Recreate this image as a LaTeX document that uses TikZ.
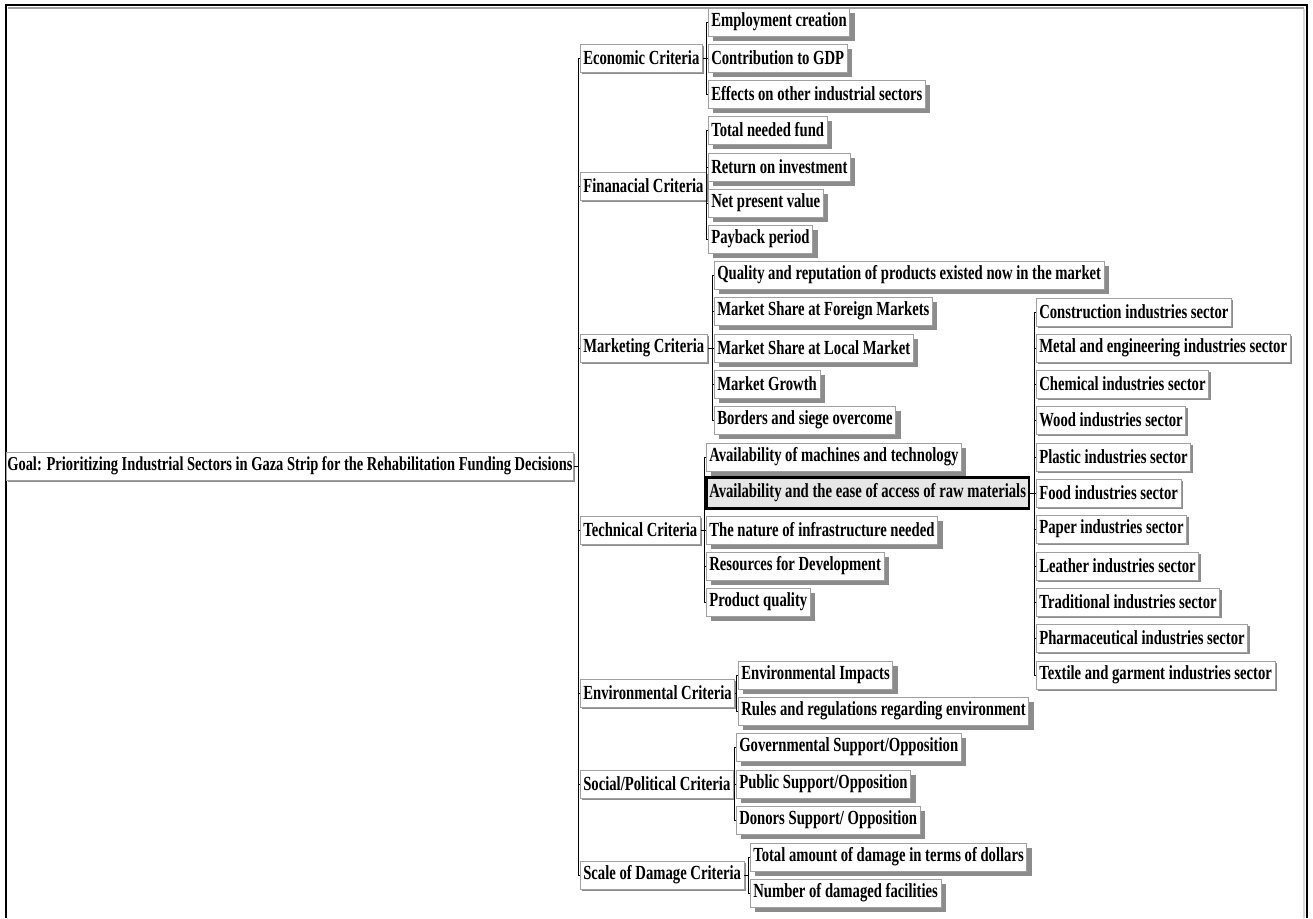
\documentclass[tikz,border=0pt]{standalone}
\usepackage{fontspec}
\usepackage{tikz}
\usetikzlibrary{shadows}
\newfontfamily\treefont[FakeStretch=0.7335]{Liberation Serif}
\definecolor{frame}{HTML}{000000}
\definecolor{edge}{HTML}{A0A0A0}
\definecolor{shade}{HTML}{8C8C8C}
\definecolor{selfill}{HTML}{E6E6E6}
\tikzset{
  box/.style={draw=edge, line width=0.6pt, fill=white, anchor=west, minimum height=28pt,
    inner xsep=3pt, inner ysep=0pt, font=\treefont\bfseries\fontsize{20}{20}\selectfont},
  goalbox/.style={box, inner xsep=1pt, font=\treefont\bfseries\fontsize{19.7}{20}\selectfont,
    drop shadow={shadow xshift=1.5pt, shadow yshift=-2pt, fill=shade, opacity=1}},
  crit/.style={box, drop shadow={shadow xshift=2pt, shadow yshift=-2pt, fill=shade, opacity=1}},
  sub/.style={box, drop shadow={shadow xshift=5pt, shadow yshift=-5pt, fill=shade, opacity=1}},
  alt/.style={box, drop shadow={shadow xshift=2pt, shadow yshift=-2pt, fill=shade, opacity=1}},
  sel/.style={box, draw=black, line width=2.6pt, fill=selfill, minimum height=31pt},
  link/.style={draw=black, line width=0.9pt},
}

\begin{document}
\begin{tikzpicture}[x=1pt,y=-1pt]
  \useasboundingbox (0,0) rectangle (1313,918);
  % window frame
  \draw[edge, line width=2pt] (8,8) -- (1304,8);
  \draw[gray!30, line width=1.5pt] (1304,9) -- (1304,918);
  \draw[frame, line width=2.2pt] (6,918) -- (6,5) -- (1307,5) -- (1307,918);

  % goal
  \node[goalbox] (goal) at (6,466) {Goal: Prioritizing Industrial Sectors in Gaza Strip for the Rehabilitation Funding Decisions};

  % criteria
  \node[crit] (eco) at (580,58) {Economic Criteria};
  \node[crit] (fin) at (580,186) {Finanacial Criteria};
  \node[crit] (mkt) at (580,348) {Marketing Criteria};
  \node[crit] (tec) at (580,530) {Technical Criteria};
  \node[crit] (env) at (580,693) {Environmental Criteria};
  \node[crit] (soc) at (580,784) {Social/Political Criteria};
  \node[crit] (dmg) at (580,875) {Scale of Damage Criteria};

  % sub-criteria
  \node[sub] (eco1) at (708,22) {Employment creation};
  \node[sub] (eco2) at (708,58) {Contribution to GDP};
  \node[sub] (eco3) at (708,94) {Effects on other industrial sectors};

  \node[sub] (fin1) at (708,130) {Total needed fund};
  \node[sub] (fin2) at (708,167) {Return on investment};
  \node[sub] (fin3) at (708,203) {Net present value};
  \node[sub] (fin4) at (708,239) {Payback period};

  \node[sub] (mkt1) at (714,275) {Quality and reputation of products existed now in the market};
  \node[sub] (mkt2) at (714,311) {Market Share at Foreign Markets};
  \node[sub] (mkt3) at (714,348) {Market Share at Local Market};
  \node[sub] (mkt4) at (714,384) {Market Growth};
  \node[sub] (mkt5) at (714,420) {Borders and siege overcome};

  \node[sub] (tec1) at (706,457) {Availability of machines and technology};
  \node[sel] (tec2) at (705,493) {Availability and the ease of access of raw materials};
  \node[sub] (tec3) at (706,530) {The nature of infrastructure needed};
  \node[sub] (tec4) at (706,566) {Resources for Development};
  \node[sub] (tec5) at (706,602) {Product quality};

  \node[sub] (env1) at (738,675) {Environmental Impacts};
  \node[sub] (env2) at (738,711) {Rules and regulations regarding environment};

  \node[sub] (soc1) at (736,747) {Governmental Support/Opposition};
  \node[sub] (soc2) at (736,784) {Public Support/Opposition};
  \node[sub] (soc3) at (736,820) {Donors Support/ Opposition};

  \node[sub] (dmg1) at (750,857) {Total amount of damage in terms of dollars};
  \node[sub] (dmg2) at (750,893) {Number of damaged facilities};

  % alternatives
  \node[alt] (alt1) at (1036,312) {Construction industries sector};
  \node[alt] (alt2) at (1036,348) {Metal and engineering industries sector};
  \node[alt] (alt3) at (1036,384) {Chemical industries sector};
  \node[alt] (alt4) at (1036,420) {Wood industries sector};
  \node[alt] (alt5) at (1036,457) {Plastic industries sector};
  \node[alt] (alt6) at (1036,493) {Food industries sector};
  \node[alt] (alt7) at (1036,529) {Paper industries sector};
  \node[alt] (alt8) at (1036,566) {Leather industries sector};
  \node[alt] (alt9) at (1036,602) {Traditional industries sector};
  \node[alt] (alt10) at (1036,638) {Pharmaceutical industries sector};
  \node[alt] (alt11) at (1036,675) {Textile and garment industries sector};

  % tree lines
  \draw[link] (goal.east) -- ([xshift=-2pt]goal.east -| eco.west);
  \draw[link] ([xshift=-2pt]eco.west) -- ([xshift=-2pt]dmg.west);
  \foreach \n in {eco,fin,mkt,tec,env,soc,dmg}
    \draw[link] (\n.west) -- ++(-2pt,0);

  \draw[link] ([xshift=-2pt]eco1.west) -- ([xshift=-2pt]eco3.west);
  \draw[link] ([xshift=-2pt]fin1.west) -- ([xshift=-2pt]fin4.west);
  \draw[link] ([xshift=-2pt]mkt1.west) -- ([xshift=-2pt]mkt5.west);
  \draw[link] ([xshift=-2pt]tec1.west) -- ([xshift=-2pt]tec5.west);
  \draw[link] ([xshift=-2pt]env1.west) -- ([xshift=-2pt]env2.west);
  \draw[link] ([xshift=-2pt]soc1.west) -- ([xshift=-2pt]soc3.west);
  \draw[link] ([xshift=-2pt]dmg1.west) -- ([xshift=-2pt]dmg2.west);
  \foreach \n in {eco1,eco2,eco3,fin1,fin2,fin3,fin4,mkt1,mkt2,mkt3,mkt4,mkt5,
                  tec1,tec3,tec4,tec5,env1,env2,soc1,soc2,soc3,dmg1,dmg2}
    \draw[link] (\n.west) -- ++(-2pt,0);
  \draw[link] (eco.east) -- ([xshift=-2pt]eco.east -| eco2.west);
  \draw[link] (fin.east) -- ([xshift=-2pt]fin.east -| fin1.west);
  \draw[link] (mkt.east) -- ([xshift=-2pt]mkt.east -| mkt1.west);
  \draw[link] (tec.east) -- ([xshift=-2pt]tec.east -| tec1.west);
  \draw[link] (env.east) -- ([xshift=-2pt]env.east -| env1.west);
  \draw[link] (soc.east) -- ([xshift=-2pt]soc.east -| soc1.west);
  \draw[link] (dmg.east) -- ([xshift=-2pt]dmg.east -| dmg1.west);

  \draw[link] (tec2.east) -- ([xshift=-2pt]tec2.east -| alt6.west);
  \draw[link] ([xshift=-2pt]alt1.west) -- ([xshift=-2pt]alt11.west);
  \foreach \n in {alt1,alt2,alt3,alt4,alt5,alt6,alt7,alt8,alt9,alt10,alt11}
    \draw[link] (\n.west) -- ++(-2pt,0);
\end{tikzpicture}
\end{document}
